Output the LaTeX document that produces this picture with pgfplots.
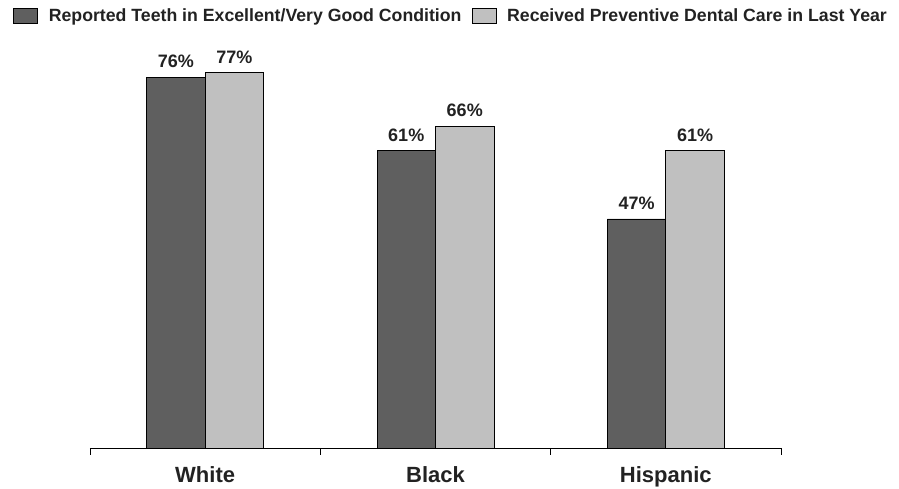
\documentclass[border=0pt]{standalone}
\usepackage{pgfplots}
\pgfplotsset{compat=1.18}
\usepackage{fontspec}
\setmainfont{Liberation Sans}
\definecolor{darkbar}{HTML}{5F5F5F}
\definecolor{lightbar}{HTML}{C0C0C0}
\definecolor{txt}{HTML}{222222}
\begin{document}
\begin{tikzpicture}[x=1pt,y=1pt]
\useasboundingbox (0,0) rectangle (899,489);
\begin{axis}[
  at={(90pt,41pt)}, anchor=south west,
  scale only axis, width=691pt, height=390pt,
  xmin=-0.5, xmax=2.5, ymin=0, ymax=80,
  axis x line=bottom, axis y line=none,
  axis line style={-, black, line width=0.8pt},
  ybar=0pt, bar width=58.5pt,
  xtick={0,1,2}, xticklabels={White,Black,Hispanic},
  major tick length=0pt,
  extra x ticks={-0.5,0.5,1.5,2.5}, extra x tick labels={},
  extra x tick style={major tick length=7pt, tick style={black, line width=0.8pt}, tick align=outside},
  xticklabel style={font=\fontsize{22}{24}\selectfont\bfseries, text=txt, yshift=-15pt},
  clip=false,
  /pgf/number format/assume math mode=true,
  nodes near coords={\pgfmathprintnumber{\pgfplotspointmeta}\%},
  every node near coord/.append style={font=\fontsize{18}{20}\selectfont\bfseries, text=txt, anchor=south, inner sep=0pt, yshift=9pt},
  legend columns=2,
  legend style={at={(-0.1114,1.128)}, anchor=north west, draw=none, fill=none,
     font=\fontsize{17.7}{20}\selectfont\bfseries, text=txt, inner sep=0pt,
     nodes={inner sep=0pt},
     /tikz/every odd column/.append style={column sep=11pt},
     /tikz/every even column/.append style={column sep=10pt}},
  legend image code/.code={\draw[#1, draw=black, line width=0.6pt] (0pt,-7.5pt) rectangle (24pt,7.5pt);},
]
\addplot[fill=darkbar, draw=black, line width=0.7pt] coordinates {(0,76) (1,61) (2,47)};
\addplot[fill=lightbar, draw=black, line width=0.7pt] coordinates {(0,77) (1,66) (2,61)};
\legend{Reported Teeth in Excellent/Very Good Condition, Received Preventive Dental Care in Last Year}
\end{axis}
\end{tikzpicture}
\end{document}
